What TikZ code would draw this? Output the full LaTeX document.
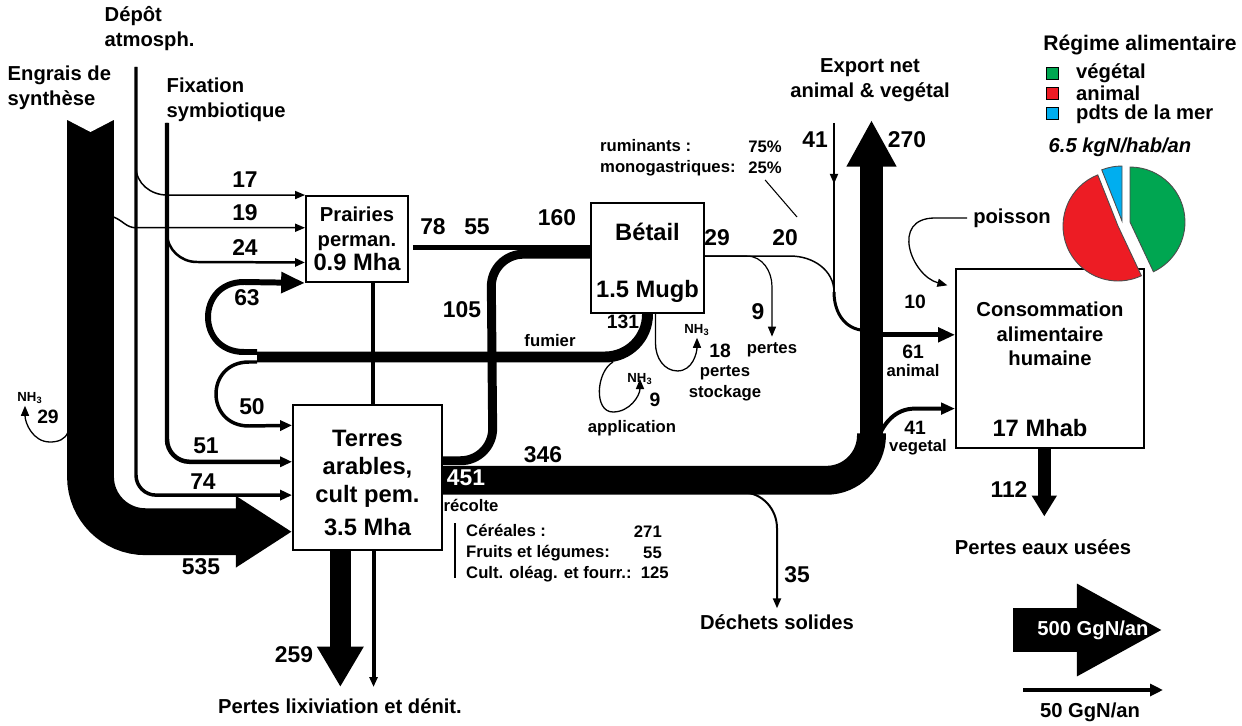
\documentclass[tikz,border=0pt]{standalone}
\usepackage{fontspec}
\setmainfont{Liberation Sans}
\usetikzlibrary{arrows.meta,calc,decorations.markings}
\definecolor{vegcol}{RGB}{0,166,81}
\definecolor{animcol}{RGB}{237,28,36}
\definecolor{mercol}{RGB}{0,174,239}
\begin{document}
\begin{tikzpicture}[x=0.02cm, y=-0.02cm,
  every node/.style={font=\bfseries\fontsize{11.5}{14}\selectfont, align=center},
  big/.style={font=\bfseries\fontsize{13.5}{16}\selectfont},
  num/.style={font=\bfseries\fontsize{13}{15}\selectfont},
  numsm/.style={font=\bfseries\fontsize{11}{13}\selectfont},
  small/.style={font=\bfseries\fontsize{9.5}{11.8}\selectfont},
  tiny/.style={font=\bfseries\fontsize{7.5}{9}\selectfont, inner sep=1pt},
  box/.style={draw, line width=1.1pt, fill=white, inner sep=0pt},
  flow/.style={line width=#1*0.567pt},
  arr/.style={-{Triangle[length=5.7pt,width=4.6pt]}},
  arrmed/.style={-{Triangle[length=6.8pt,width=5.7pt]}},
  mid arrow/.style={decoration={markings, mark=at position 0.36 with {\arrow{Triangle[length=5.7pt,width=4.6pt]}}}, postaction={decorate}},
  legsq/.style={draw, line width=0.4pt, minimum size=0.24cm, inner sep=0pt},
  pie/.style={draw=black!70, line width=0.5pt}]
\useasboundingbox (0,0) rectangle (1242,726);

\node[box, minimum width=2.04cm, minimum height=1.72cm] (prairies) at (357,239) {Prairies\\perman.\\{\fontsize{13.5}{16}\selectfont 0.9 Mha}};
\node[box, big, minimum width=2.98cm, minimum height=2.9cm] (terres) at (367.5,477.5) {\rule{0pt}{15.5pt}Terres\\arables,\\cult pem.\\[3pt]3.5 Mha};
\node[box, big, minimum width=2.26cm, minimum height=2.2cm] (betail) at (647.5,258) {\rule{0pt}{15.5pt}B\'etail\\[16pt]1.5 Mugb};
\node[box, minimum width=3.76cm, minimum height=3.58cm] (conso) at (1050,358.5) {};
\node (consotxt) at (1050,334) {Consommation\\alimentaire\\humaine};
\node[big] (mhab) at (1040,428) {17 Mhab};

\node[align=left, anchor=west] (engraislbl) at (1.5,87.5) {Engrais de\\synth\`ese};
\node[align=left, anchor=west] (depotlbl) at (98.5,28.5) {D\'ep\^ot\\atmosph.};
\node[align=left, anchor=west] (fixlbl) at (160.5,100) {Fixation\\symbiotique};
\node (exportlbl) at (870,80) {Export net\\animal \& veg\'etal};
\node (lixiv) at (340,706) {Pertes lixiviation et d\'enit.};
\node (dechets) at (777,622) {D\'echets solides};
\node (eaux) at (1043,547) {Pertes eaux us\'ees};
\node (poisson) at (1012,218) {poisson};

\coordinate (engrais) at (90.5,120);
\coordinate (depot) at (136,67);
\coordinate (fixation) at (167,123);
\coordinate (export) at (871.5,120);
\coordinate (v346) at (871.5,436);
\coordinate (fumier) at (257,357);
\coordinate (imp41) at (834,123);
\coordinate (j41) at (834,292);
\coordinate (e29) at (68,432);
\coordinate (r20) at (797,217);
\coordinate (p17) at (prairies.north west);
\coordinate (p19) at ($(prairies.north west)!0.372!(prairies.south west)$);
\coordinate (p24) at ($(prairies.north west)!0.767!(prairies.south west)$);
\coordinate (p78) at ($(prairies.north east)!0.6!(prairies.south east)$);
\coordinate (t50) at ($(terres.north west)!0.145!(terres.south west)$);
\coordinate (t51) at ($(terres.north west)!0.393!(terres.south west)$);
\coordinate (t74) at ($(terres.north west)!0.62!(terres.south west)$);
\coordinate (t535) at ($(terres.north west)!0.869!(terres.south west)$);
\coordinate (t105) at ($(terres.north east)!0.386!(terres.south east)$);
\coordinate (t346) at ($(terres.north east)!0.519!(terres.south east)$);
\coordinate (t259) at ($(terres.south west)!0.32!(terres.south east)$);
\coordinate (tlix) at ($(terres.south west)!0.54!(terres.south east)$);
\coordinate (b105) at ($(betail.north west)!0.466!(betail.south west)$);
\coordinate (b29) at ($(betail.north east)!0.483!(betail.south east)$);
\coordinate (s18) at ($(betail.south west)!0.57!(betail.south east)$);
\coordinate (f9) at ($(fumier)+(356,5)$);
\coordinate (c10) at ($(conso.north west)!0.107!(conso.south west)$);
\coordinate (c61) at ($(conso.north west)!0.369!(conso.south west)$);
\coordinate (c41) at ($(conso.north west)!0.777!(conso.south west)$);
\coordinate (c112) at ($(conso.south west)!0.47!(conso.south east)$);

\draw[flow=47, rounded corners=1.1cm, -{Triangle[length=32pt,width=38.5pt]}] (engrais) -- (engrais |- t535) -- (t535);
\fill[white] ($(engrais)+(-25,-1)$) -- ($(engrais)+(0,12)$) -- ($(engrais)+(25,-1)$) -- cycle;
\node[tiny] (nh3e) at (30,398) {NH\textsubscript{3}};
\draw[flow=1.3, arr] (e29) to[out=-110,in=0] (50,442) to[out=180,in=-90] ([xshift=-0.1cm]nh3e.south);

\draw[flow=3.5, rounded corners=0.4cm, arrmed] (depot) -- (depot |- t74) -- (t74);
\draw[flow=1.5, arr] (depot) -- ++(0,100) to[out=-90,in=180] (p17 -| fixation) -- (p17);
\draw[flow=4.5, rounded corners=0.45cm, arrmed] (fixation) -- (fixation |- t51) -- (t51);
\draw[flow=2.5, arr] (fixation) -- ++(0,110) to[out=-90,in=180] ++(30,29) -- (p24);
\draw[flow=1.5, arr] ($(engrais)+(23,97)$) to[out=-20,in=180] (p19 -| depot) -- (p19);

\draw[flow=11, rounded corners=0.85cm] (fumier) -- (fumier -| betail.south) -- (betail.south);
\draw[flow=6, -{Triangle[length=13.6pt,width=11.3pt]}] ($(fumier)+(0,-5)$) -- ++(-13,0) .. controls +(-48,0) and +(-48,0) .. ++(0,-70) -- (prairies.south west);
\draw[flow=3.5, arrmed] ($(fumier)+(0,5)$) -- ++(-8,0) .. controls +(-44,0) and +(-44,0) .. ++(0,64) -- (t50);
\draw[flow=4] ([xshift=0.32cm]prairies.south) -- ([xshift=0.32cm]prairies.south |- terres.north);

\draw[flow=5] ([xshift=0.08cm]p78) -- (p78 -| betail.west);
\draw[flow=9, rounded corners=0.65cm] (t105) -- ++(50,0) -- ($(b105)+(-99,0)$) -- (b105);

\draw[flow=29, rounded corners=0.9cm] (t346) -- (t346 -| export) -- ++(0,-47);
\draw[flow=24, -{Triangle[length=26.6pt,width=26.6pt]}] (v346) -- (export);
\draw[flow=2, arr] ($(terres.east)+(300,15)$) to[out=0,in=90] ($(dechets.north)+(0,-80)$) -- (dechets.north);

\draw[flow=1.8, mid arrow] (imp41) -- (j41);
\draw[flow=1.5] (b29) -- ++(86,0) to[out=0,in=90] (j41);
\draw[flow=3] (j41) to[out=-90,in=170] ++(26.5,38);
\node[small] (pertes9) at (772,350) {pertes};
\draw[flow=1.2, arr] (b29) -- ++(42,0) to[out=0,in=90] ($(pertes9.north)+(0,-50)$) -- (pertes9.north);

\node[tiny] (nh3s) at (697,330) {NH\textsubscript{3}};
\draw[flow=1.3, arr] (s18) -- ++(0,30) to[out=-90,in=180] ++(22,27) to[out=0,in=-90] (nh3s.south);
\node[tiny] (nh3a) at (640,379) {NH\textsubscript{3}};
\draw[flow=1.3, arr] (f9) to[out=-150,in=180] ++(0,50) to[out=0,in=-90] (nh3a.center);

\draw[flow=1.3, arr, shorten >=4.5pt] (poisson.west) -- ++(-32,0) to[out=180,in=165,looseness=1.6] (c10);
\draw[flow=5, -{Triangle[length=9.6pt,width=8pt]}] (c61 -| export) -- (c61);
\draw[flow=4, {Triangle[length=8pt,width=6.5pt]}-] (c41) -- ++(-40,0) to[out=180,in=70] ++(-38.5,33);
\draw[flow=13, -{Triangle[length=11.9pt,width=13.6pt]}, shorten >=9.6pt] (c112) -- (c112 |- eaux.north);

\draw[flow=21, -{Triangle[length=23pt,width=25pt]}, shorten >=3pt] (t259) -- (t259 |- lixiv.north);
\draw[flow=4, arr, shorten >=3pt] (tlix) -- (tlix |- lixiv.north);

\node[num] at (245,180) {17};
\node[num] at (245,213) {19};
\node[num] at (245,248) {24};
\node[num] at (247,298) {63};
\node[num] at (252,407) {50};
\node[num] at (206,446) {51};
\node[num] at (203,482) {74};
\node[num] at (201,567) {535};
\node[num] at (294,655) {259};
\node[numsm] at (48,417) {29};
\node[num] at (433,227) {78};
\node[num] at (477,227) {55};
\node[num] at (557,218) {160};
\node[num] at (462,310) {105};
\node[num] at (543,455) {346};
\node[num, text=white] at (466,478) {451};
\node[small] at (471,505) {r\'ecolte};
\node[num] at (717,238) {29};
\node[num] at (785,238) {20};
\node[num] at (758,312) {9};
\node[num] at (815,140) {41};
\node[num] at (907,140) {270};
\node[numsm] at (623,322) {131};
\node[small] at (550,341) {fumier};
\node[numsm] at (720,351) {18};
\node[small] at (725,383) {pertes\\stockage};
\node[numsm] at (655,400) {9};
\node[small] at (632,428) {application};
\node[num] at (797,575) {35};
\node[numsm] at (915,302) {10};
\node[numsm] at (913,352) {61};
\node[small] at (913,371) {animal};
\node[numsm] at (915,428) {41};
\node[small] at (918,447) {vegetal};
\node[num] at (1009,490) {112};

\node[small, align=left, anchor=west] (rumin) at (594,157.5) {ruminants :\\monogastriques:};
\node[small, align=right, anchor=east] (rumpct) at (788,157.5) {75\%\\25\%};
\draw[line width=0.6pt] (rumpct.south) -- (r20);

\node[small, align=left, anchor=west] (cultures) at (460,553) {C\'er\'eales :\\Fruits et l\'egumes:\\Cult. ol\'eag. et fourr.:\ \ 125};
\node[small, align=right, anchor=east] (cultnum) at (668,542.5) {271\\55};
\draw[line width=0.8pt] ([xshift=-0.1cm, yshift=-0.1cm]cultures.north west) -- ([xshift=-0.1cm, yshift=0.2cm]cultures.south west);

\node[font=\bfseries\fontsize{12}{14}\selectfont] (regime) at (1140,45) {R\'egime alimentaire};
\node[legsq, fill=vegcol] (sqveg) at (1052,73) {};
\node[legsq, fill=animcol] (sqanim) at (1052,93) {};
\node[legsq, fill=mercol] (sqmer) at (1052,113) {};
\node[anchor=west] (lveg) at (1070,73) {v\'eg\'etal};
\node[anchor=west] (lanim) at (1070,93) {animal};
\node[anchor=west] (lmer) at (1070,114) {pdts de la mer};
\node[font=\bfseries\itshape\fontsize{11.5}{14}\selectfont] (kgn) at (1120,147) {6.5 kgN/hab/an};
\filldraw[pie, fill=vegcol] (1130,222) -- ++(90:1.1cm) arc[start angle=90, end angle=-64.8, radius=1.1cm] -- cycle;
\filldraw[pie, fill=animcol] (1118,226) -- ++(111.6:1.1cm) arc[start angle=111.6, end angle=295.2, radius=1.1cm] -- cycle;
\filldraw[pie, fill=mercol] (1122,221) -- ++(90:1.1cm) arc[start angle=90, end angle=111.6, radius=1.1cm] -- cycle;

\coordinate (s500) at (1013,630);
\coordinate (s50) at (1023,690);
\draw[flow=44, -{Triangle[length=49pt,width=49pt]}] (s500) -- ++(150,0);
\node[text=white] (l500) at (1093,630) {500 GgN/an};
\draw[flow=4, -{Triangle[length=7.4pt,width=6.8pt]}] (s50) -- ++(140,0);
\node (l50) at (1090,712) {50 GgN/an};
\end{tikzpicture}
\end{document}
